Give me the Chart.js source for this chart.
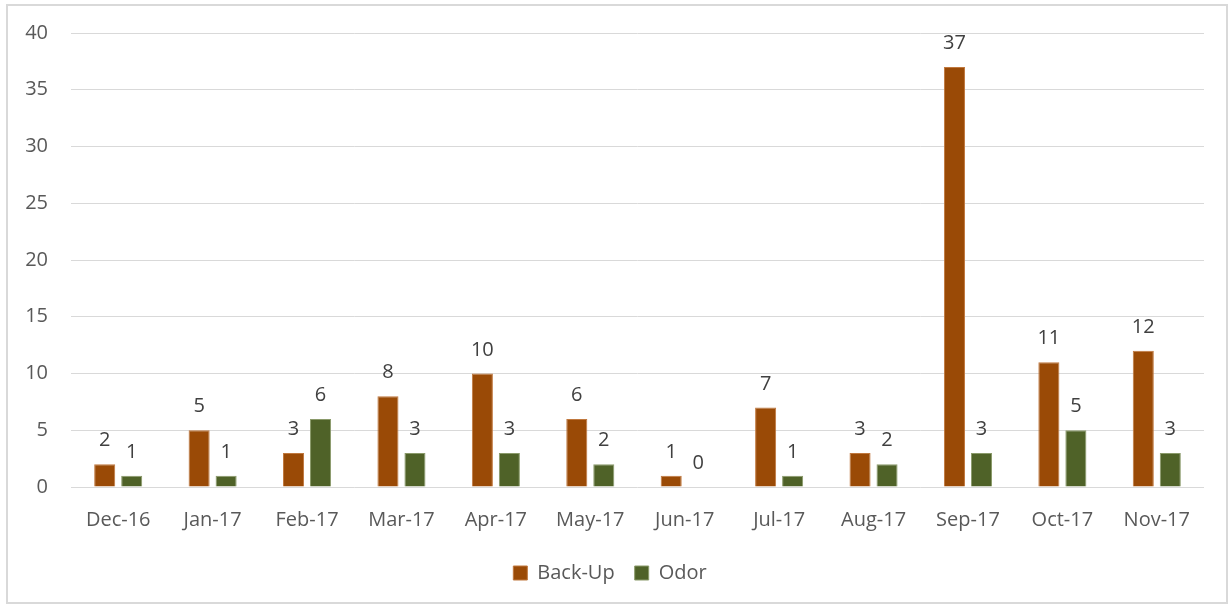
<!DOCTYPE html>
<html>
<head>
<meta charset="utf-8">
<script src="https://cdn.jsdelivr.net/npm/chart.js@4/dist/chart.umd.min.js"></script>
<style>
html,body{margin:0;padding:0;background:#fff;}
#wrap{width:1232px;height:608px;position:relative;}
</style>
</head>
<body>
<div id="wrap"><canvas id="c" width="1232" height="608"></canvas></div>
<script>
const categories = ["Dec-16","Jan-17","Feb-17","Mar-17","Apr-17","May-17","Jun-17","Jul-17","Aug-17","Sep-17","Oct-17","Nov-17"];
const backUp = [2,5,3,8,10,6,1,7,3,37,11,12];
const odor = [1,1,6,3,3,2,0,1,2,3,5,3];
const yTicks = [0,5,10,15,20,25,30,35,40];

const FONT = "'Open Sans', sans-serif";
const FS = 20;

const frame = {
  id:'frame',
  beforeDraw(chart){
    const ctx = chart.ctx;
    ctx.save();
    ctx.fillStyle='#fff';
    ctx.fillRect(0,0,chart.width,chart.height);
    ctx.strokeStyle='#d9d9d9';
    ctx.lineWidth=2;
    ctx.strokeRect(7,5,1220,598);
    ctx.restore();
  }
};
const valueLabels = {
  id:'valueLabels',
  afterDatasetsDraw(chart){
    const ctx = chart.ctx;
    ctx.save();
    ctx.font = FS + "px " + FONT;
    ctx.fillStyle = '#404040';
    ctx.textAlign = 'center';
    ctx.textBaseline = 'alphabetic';
    chart.data.datasets.forEach((ds,i)=>{
      const meta = chart.getDatasetMeta(i);
      meta.data.forEach((bar,j)=>{
        ctx.fillText(String(ds.data[j]), bar.x, bar.y - 18);
      });
    });
    ctx.restore();
  }
};

new Chart(document.getElementById('c'),{
  type:'bar',
  data:{
    labels:categories,
    datasets:[
      {label:'Back-Up',data:backUp,backgroundColor:'#9a4a06',borderColor:'#c0783e',borderWidth:1,barPercentage:0.78,categoryPercentage:0.572},
      {label:'Odor',data:odor,backgroundColor:'#4f6228',borderColor:'#8a9a6a',borderWidth:1,barPercentage:0.78,categoryPercentage:0.572}
    ]
  },
  options:{
    responsive:false,
    animation:false,
    layout:{padding:{top:12,right:28,left:16,bottom:15}},
    plugins:{
      tooltip:{enabled:false},
      legend:{
        position:'bottom',
        labels:{
          font:{family:FONT,size:FS},
          color:'#595959',
          boxWidth:14,boxHeight:14,
          padding:20,
          useBorderRadius:false
        }
      }
    },
    scales:{
      x:{
        grid:{display:false,drawTicks:false},
        border:{display:false},
        afterFit(scale){scale.height -= 10;},
        ticks:{font:{family:FONT,size:FS},color:'#595959',padding:21,maxRotation:0,autoSkip:false}
      },
      y:{
        min:0,max:40,
        afterBuildTicks(scale){scale.ticks = yTicks.map(v=>({value:v}));},
        afterFit(scale){scale.width = 55;},
        grid:{color:'#d9d9d9',lineWidth:1,drawTicks:false},
        border:{display:false},
        ticks:{font:{family:FONT,size:FS,lineHeight:1},color:'#595959',padding:23}
      }
    }
  },
  plugins:[frame,valueLabels]
});
</script>
</body>
</html>
